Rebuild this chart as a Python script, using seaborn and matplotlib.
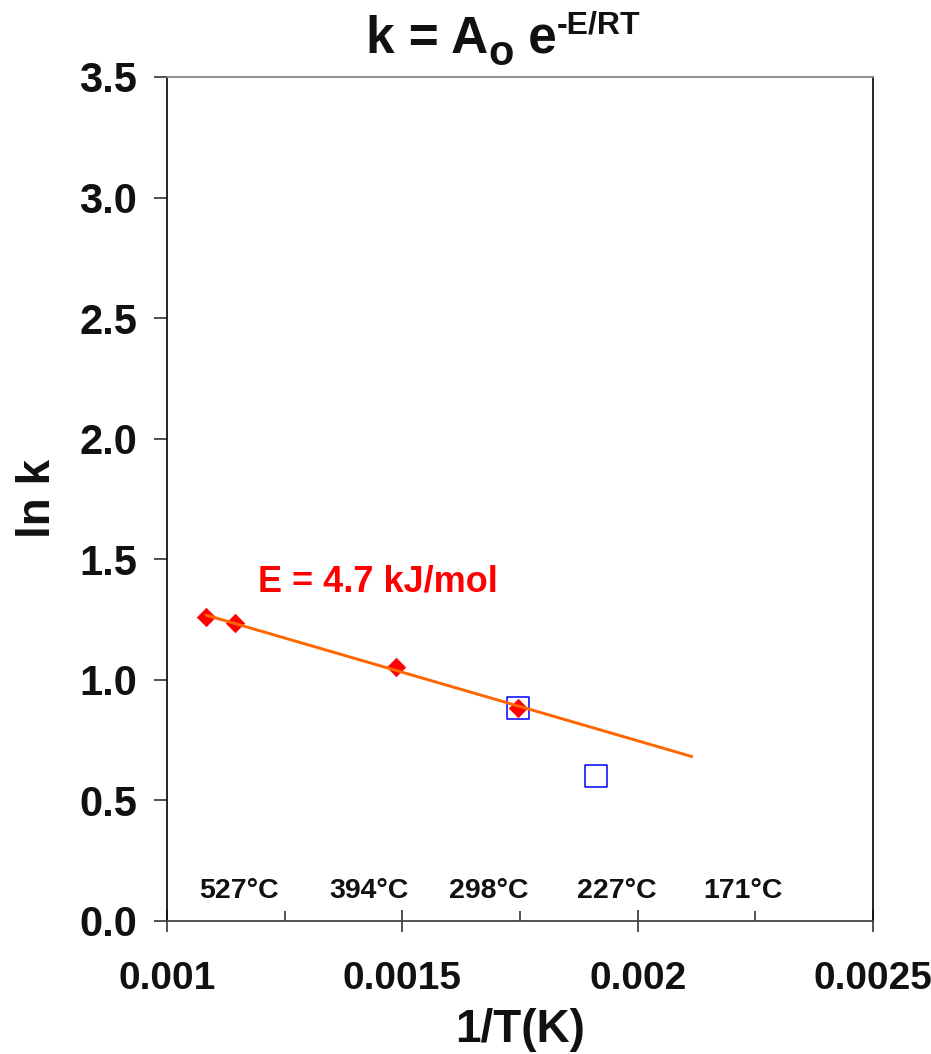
import numpy as np
import pandas as pd
import matplotlib
matplotlib.use("Agg")
import matplotlib.pyplot as plt
from matplotlib.ticker import FixedLocator
import seaborn as sns

# Arrhenius data: ln k versus reciprocal temperature
fit_x = [0.001083, 0.001144, 0.001487, 0.001746]      # 1/T (1/K), fitted points
fit_lnk = [1.261, 1.236, 1.053, 0.883]                # ln k, fitted points
other_x = [0.001746, 0.001911]                        # 1/T (1/K), open squares
other_lnk = [0.883, 0.601]                            # ln k, open squares
fit_range = [0.001083, 0.002115]                      # extent of the fitted line

temp_labels = ["527°C", "394°C", "298°C", "227°C", "171°C"]
temp_label_x = [0.001152, 0.001429, 0.001684, 0.001956, 0.002224]
temp_label_y = 0.095

x_ticks = [0.001, 0.0015, 0.002, 0.0025]
x_tick_labels = ["0.001", "0.0015", "0.002", "0.0025"]
x_minor = [0.00125, 0.00175, 0.00225]
y_ticks = [0.0, 0.5, 1.0, 1.5, 2.0, 2.5, 3.0, 3.5]
y_tick_labels = ["0.0", "0.5", "1.0", "1.5", "2.0", "2.5", "3.0", "3.5"]

energy_label = "E = 4.7 kJ/mol"
energy_pos = (0.001193, 1.406)

# Title pieces: main text, subscript, main text, superscript
title_main = "k = A"
title_sub = "o"
title_mid = " e"
title_sup = "-E/RT"

sns.set_theme(style="ticks")
plt.rcParams["font.family"] = ["Liberation Sans", "DejaVu Sans"]
plt.rcParams["font.weight"] = "bold"

W, H = 931, 1054
fig = plt.figure(figsize=(W / 100, H / 100), dpi=100)
ax = fig.add_axes([167 / W, 1 - 921 / H, 706 / W, 844 / H])

# Linear least-squares fit of ln k against 1/T
slope, intercept = np.polyfit(fit_x, fit_lnk, 1)
line_df = pd.DataFrame({"x": fit_range,
                        "y": [slope * v + intercept for v in fit_range]})

pts = pd.DataFrame({"x": fit_x, "y": fit_lnk})
sq = pd.DataFrame({"x": other_x, "y": other_lnk})

sns.scatterplot(data=pts, x="x", y="y", ax=ax, marker="D", s=88,
                color="#ff0000", edgecolor="#ff0000", linewidth=0.5, zorder=3)
sns.scatterplot(data=sq, x="x", y="y", ax=ax, marker="s", s=240,
                facecolor="none", edgecolor="#0000ff", linewidth=1.1, zorder=4)
sns.lineplot(data=line_df, x="x", y="y", ax=ax, color="#ff6600",
             linewidth=2.1, zorder=5)

ax.set_xlim(0.001, 0.0025)
ax.set_ylim(0, 3.5)
ax.set_xticks(x_ticks)
ax.set_xticklabels(x_tick_labels)
ax.xaxis.set_minor_locator(FixedLocator(x_minor))
ax.set_yticks(y_ticks)
ax.set_yticklabels(y_tick_labels)

ax.tick_params(axis="x", which="major", direction="inout", length=16,
               width=1.1, color="#222222", labelsize=28, pad=21,
               labelcolor="#111111")
ax.tick_params(axis="x", which="minor", direction="in", length=7,
               width=1.1, color="#222222")
ax.tick_params(axis="y", which="major", direction="out", length=9.5,
               width=1.1, color="#222222", labelsize=30, pad=12,
               labelcolor="#111111")
for lab in ax.get_xticklabels() + ax.get_yticklabels():
    lab.set_fontweight("bold")

for side, col in {"left": "#111111", "right": "#111111",
                  "bottom": "#444444", "top": "#888888"}.items():
    ax.spines[side].set_color(col)
    ax.spines[side].set_linewidth(1.3)

ax.set_xlabel("1/T(K)", fontsize=33, fontweight="bold", color="#111111",
              labelpad=8)
ax.set_ylabel("ln k", fontsize=33, fontweight="bold", color="#111111",
              labelpad=14)

for lab, xv in zip(temp_labels, temp_label_x):
    ax.text(xv, temp_label_y, lab, ha="center", va="baseline",
            fontsize=20.5, fontweight="bold", color="#111111")

ax.text(energy_pos[0], energy_pos[1], energy_label, ha="left", va="center",
        fontsize=26, fontweight="bold", color="#ff0000")

# Title assembled piece by piece so the sub/superscripts keep their own sizes
renderer = fig.canvas.get_renderer()
base_px = H - 53
x_px = 366
pieces = [(title_main, 37, 0), (title_sub, 30, -12),
          (title_mid, 37, 0), (title_sup, 23, 20)]
for txt, size, dy in pieces:
    t = fig.text(x_px / W, (base_px + dy) / H, txt, ha="left", va="baseline",
                 fontsize=size, fontweight="bold", color="#111111")
    x_px = t.get_window_extent(renderer).x1

fig.savefig("out.png", dpi=100, facecolor="white")
